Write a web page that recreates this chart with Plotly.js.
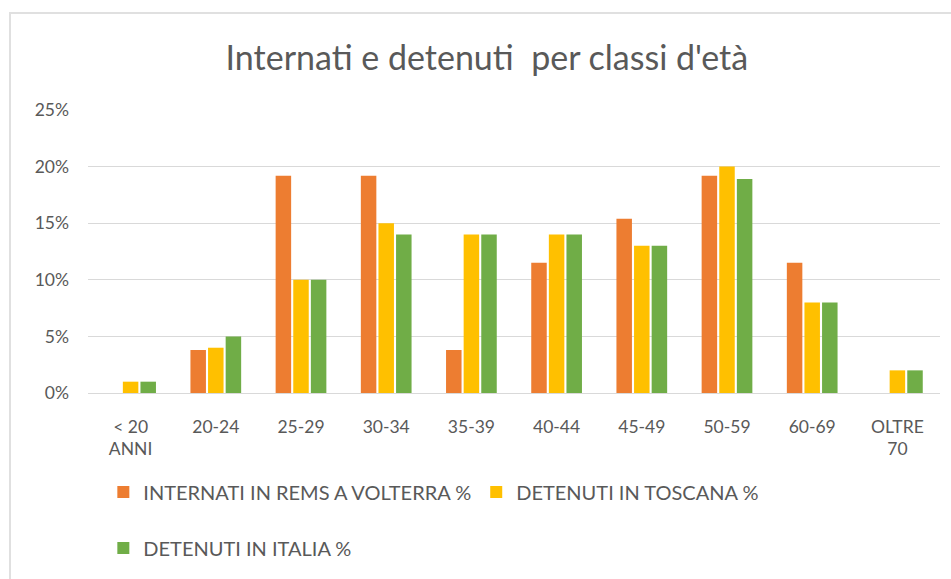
<!DOCTYPE html>
<html>
<head>
<meta charset="utf-8">
<script src="https://cdn.plot.ly/plotly-3.0.1.min.js"></script>
<style>
  html, body { margin: 0; padding: 0; background: #fff; }
  #wrap { position: relative; width: 951px; height: 579px; }
  #frame { position: absolute; left: 9px; top: 12px; width: 960px; height: 600px; border: 2px solid #e0e0e0; box-sizing: border-box; pointer-events: none; }
  #chart { position: absolute; left: 0; top: 0; width: 951px; height: 579px; }
</style>
</head>
<body>
<div id="wrap">
  <div id="chart"></div>
  <div id="frame"></div>
</div>
<script>
const categories = ["< 20<br>ANNI", "20-24", "25-29", "30-34", "35-39", "40-44", "45-49", "50-59", "60-69", "OLTRE<br>70"];
const internatiRemsVolterra = [0, 3.8, 19.2, 19.2, 3.8, 11.5, 15.4, 19.2, 11.5, 0];
const detenutiToscana = [1, 4, 10, 15, 14, 14, 13, 20, 8, 2];
const detenutiItalia = [1, 5, 10, 14, 14, 14, 13, 18.9, 8, 2];
const yTickVals = [0, 5, 10, 15, 20, 25];
const yTickText = ["0%", "5%", "10%", "15%", "20%", "25%"];

const FONT = "Lato, 'Open Sans', sans-serif";
const GREY = "#595959";

const traces = [
  { type: "bar", name: "INTERNATI IN REMS A VOLTERRA %", x: categories, y: internatiRemsVolterra,
    marker: { color: "#ED7D31" }, legend: "legend", hoverinfo: "skip" },
  { type: "bar", name: "DETENUTI IN TOSCANA %", x: categories, y: detenutiToscana,
    marker: { color: "#FFC000" }, legend: "legend", hoverinfo: "skip" },
  { type: "bar", name: "DETENUTI IN ITALIA %", x: categories, y: detenutiItalia,
    marker: { color: "#70AD47" }, legend: "legend2", hoverinfo: "skip" }
];

const layout = {
  width: 951, height: 579,
  paper_bgcolor: "#ffffff", plot_bgcolor: "#ffffff",
  font: { family: FONT, color: GREY, size: 14 },
  margin: { l: 88, r: 11, t: 110, b: 186 },
  title: { text: "Internati e detenuti  per classi d'età", font: { family: FONT, size: 34, color: GREY },
           x: 0.512, xanchor: "center", y: 0.9, yanchor: "middle" },
  barmode: "group", bargap: 0.38, bargroupgap: 0.12,
  xaxis: { type: "category", showgrid: false, showline: false, ticks: "",
           tickfont: { family: FONT, size: 17.5, color: GREY }, ticklabelstandoff: 21 },
  yaxis: { range: [0, 25], tickvals: yTickVals, ticktext: yTickText, showgrid: true, gridcolor: "#d9d9d9", gridwidth: 1,
           zeroline: true, zerolinecolor: "#d9d9d9", zerolinewidth: 1, showline: false, ticks: "",
           tickfont: { family: FONT, size: 17.5, color: GREY }, ticklabelstandoff: 18 },
  legend: { orientation: "h", x: 0.018, xanchor: "left", y: -0.35, yanchor: "middle",
            font: { family: FONT, size: 20, color: GREY }, bgcolor: "rgba(0,0,0,0)", itemwidth: 30, traceorder: "normal" },
  legend2: { orientation: "h", x: 0.018, xanchor: "left", y: -0.548, yanchor: "middle",
            font: { family: FONT, size: 20, color: GREY }, bgcolor: "rgba(0,0,0,0)", itemwidth: 30 },
  showlegend: true
};

Plotly.newPlot("chart", traces, layout, { displayModeBar: false, staticPlot: true });
</script>
</body>
</html>
